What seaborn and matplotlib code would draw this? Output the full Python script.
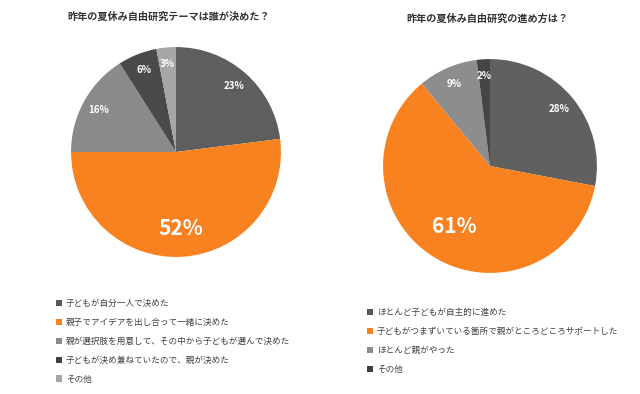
import numpy as np
import matplotlib
matplotlib.use('Agg')
import matplotlib.pyplot as plt
import seaborn as sns
from matplotlib.patches import Patch

sns.set_theme(style='white')
plt.rcParams['font.family'] = ['Noto Sans CJK JP', 'DejaVu Sans']

# データ
title_left = '昨年の夏休み自由研究テーマは誰が決めた？'
labels_left = ['子どもが自分一人で決めた',
               '親子でアイデアを出し合って一緒に決めた',
               '親が選択肢を用意して、その中から子どもが選んで決めた',
               '子どもが決め兼ねていたので、親が決めた',
               'その他']
values_left = [23, 52, 16, 6, 3]
colors_left = ['#5e5e5e', '#f7821f', '#8a8a8a', '#4a4a4a', '#a6a6a6']

title_right = '昨年の夏休み自由研究の進め方は？'
labels_right = ['ほとんど子どもが自主的に進めた',
                '子どもがつまずいている箇所で親がところどころサポートした',
                'ほとんど親がやった',
                'その他']
values_right = [28, 61, 9, 2]
colors_right = ['#606060', '#f7821f', '#8d8d8d', '#454545']

W, H = 640, 394
fig = plt.figure(figsize=(6.4, 3.94), dpi=100)
fig.patch.set_facecolor('white')


def draw_pie(box, values, colors, big_dist):
    ax = fig.add_axes(box)
    wedges, texts, autotexts = ax.pie(values, colors=colors, startangle=90, counterclock=False,
                                      autopct='%d%%', pctdistance=0.84,
                                      wedgeprops=dict(linewidth=0),
                                      textprops=dict(color='white', fontweight='bold', fontsize=7))
    big = int(np.argmax(values))
    x, y = autotexts[big].get_position()
    autotexts[big].set_position((x / 0.84 * big_dist, y / 0.84 * big_dist))
    autotexts[big].set_fontsize(15)
    ax.set_xlim(-1.01, 1.01)
    ax.set_ylim(-1.01, 1.01)
    ax.set_aspect('equal')
    return ax


# 左の円グラフ: 中心 (176,152) 半径 106 px
draw_pie([70 / W, 1 - 258 / H, 212 / W, 212 / H], values_left, colors_left, 0.73)
# 右の円グラフ: 中心 (490,166) 半径 108 px
draw_pie([382 / W, 1 - 274 / H, 216 / W, 216 / H], values_right, colors_right, 0.66)

fig.text(169 / W, 1 - 17 / H, title_left, ha='center', va='center',
         fontsize=7.3, fontweight='bold', color='#333333')
fig.text(487 / W, 1 - 19 / H, title_right, ha='center', va='center',
         fontsize=7.3, fontweight='bold', color='#333333')

legend_colors_left = ['#595959', '#f7821f', '#8c8c8c', '#404040', '#a6a6a6']
legend_colors_right = ['#595959', '#f7821f', '#8c8c8c', '#404040']


def draw_legend(labels, colors, x, y):
    handles = [Patch(facecolor=c, edgecolor='none') for c in colors]
    fig.legend(handles, labels, loc='upper left', bbox_to_anchor=(x, y),
               frameon=False, fontsize=6.2, labelcolor='#404040',
               handlelength=0.75, handleheight=0.75, handletextpad=0.4,
               labelspacing=1.15, borderpad=0, borderaxespad=0)


draw_legend(labels_left, legend_colors_left, 56 / W, 1 - 299 / H)
draw_legend(labels_right, legend_colors_right, 367 / W, 1 - 308 / H)

fig.savefig('out.png', dpi=100, facecolor='white')
